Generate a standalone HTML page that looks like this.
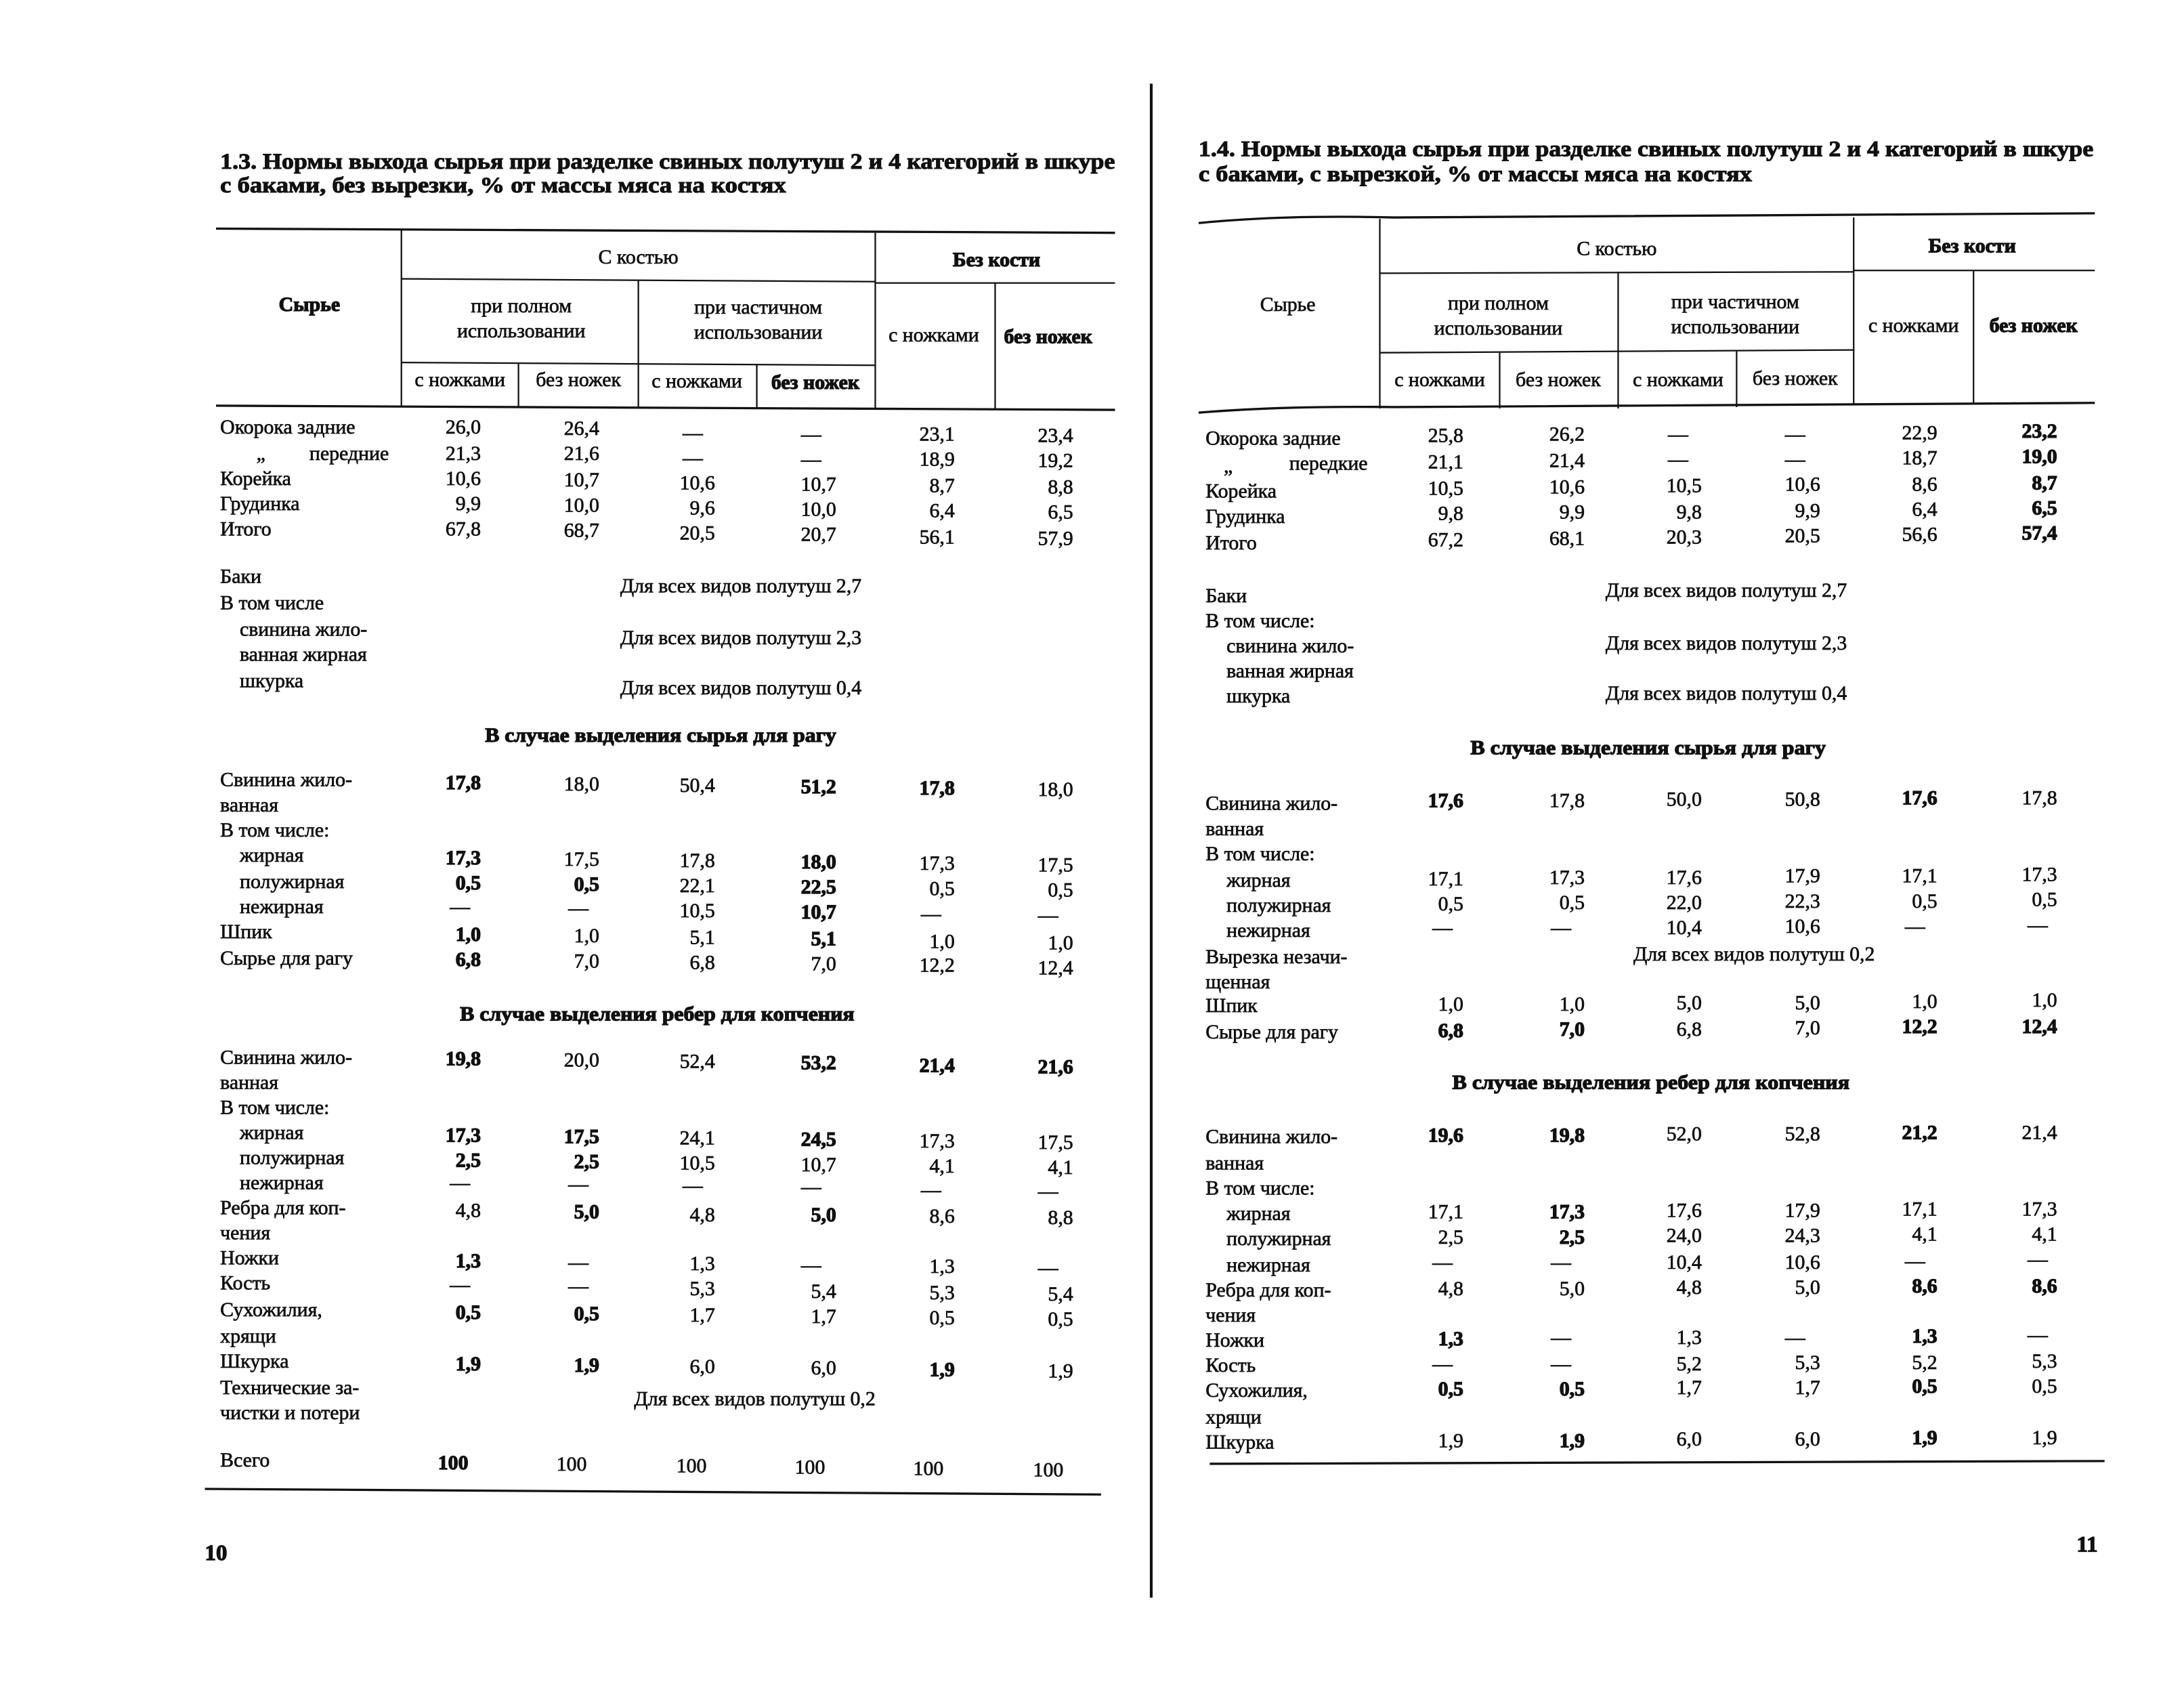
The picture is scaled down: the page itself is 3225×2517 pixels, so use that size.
<!DOCTYPE html>
<html><head><meta charset="utf-8"><style>
html,body{margin:0;padding:0;background:#fff}
svg{display:block}
text{font-family:"Liberation Serif","DejaVu Serif",serif;font-size:14.5px;fill:#111;stroke:#111;stroke-width:0.35}
.b{font-weight:bold;stroke-width:0.6}
.t{font-family:"Liberation Serif",serif;font-weight:bold;font-size:16px;stroke-width:0.5}
.n{text-anchor:end}
.m{text-anchor:middle}
line,path{stroke:#111;fill:none}
.r{stroke-width:1.6}
.g{stroke-width:1.1}
</style></head><body>
<svg width="3225" height="2517" viewBox="0 0 1567 1223" preserveAspectRatio="none" xmlns="http://www.w3.org/2000/svg">
<rect width="1567" height="1223" fill="#fff"/>
<line x1="826" y1="60" x2="826" y2="1146" class="r" style="stroke-width:2"/>

<!-- LEFT PAGE -->
<text class="t" x="158" y="121" textLength="642" lengthAdjust="spacingAndGlyphs">1.3. Нормы выхода сырья при разделке свиных полутуш 2 и 4 категорий в шкуре</text>
<text class="t" x="158" y="138" textLength="406" lengthAdjust="spacingAndGlyphs">с баками, без вырезки, % от массы мяса на костях</text>
<line x1="155" y1="164" x2="800" y2="167" class="r"/>
<line x1="288" y1="165" x2="288" y2="292" class="g"/>
<line x1="628" y1="167" x2="628" y2="293" class="g"/>
<line x1="288" y1="200" x2="628" y2="202" class="g"/>
<line x1="628" y1="203" x2="800" y2="203" class="g"/>
<line x1="458" y1="201" x2="458" y2="292" class="g"/>
<line x1="288" y1="260" x2="628" y2="262" class="g"/>
<line x1="372" y1="260" x2="372" y2="292" class="g"/>
<line x1="543" y1="261" x2="543" y2="293" class="g"/>
<line x1="714" y1="203" x2="714" y2="293" class="g"/>
<line x1="155" y1="291" x2="800" y2="294" class="r"/>
<text class="m" x="458" y="189">С костью</text>
<text class="m b" x="715" y="191">Без кости</text>
<text class="m b" x="222" y="223">Сырье</text>
<text class="m" x="374" y="224">при полном</text>
<text class="m" x="374" y="242">использовании</text>
<text class="m" x="544" y="225">при частичном</text>
<text class="m" x="544" y="243">использовании</text>
<text class="m" x="330" y="277">с ножками</text>
<text class="m" x="415" y="277">без ножек</text>
<text class="m" x="500" y="278">с ножками</text>
<text class="m b" x="585" y="279">без ножек</text>
<text class="m" x="670" y="245">с ножками</text>
<text class="m b" x="752" y="246">без ножек</text>

<text x="158" y="311">Окорока задние</text>
<text x="184" y="330">„</text><text x="222" y="330">передние</text>
<text x="158" y="348">Корейка</text>
<text x="158" y="366">Грудинка</text>
<text x="158" y="384">Итого</text>
<g class="n">
<text x="345" y="311">26,0</text><text x="430" y="312">26,4</text><text x="685" y="316">23,1</text><text x="770" y="317">23,4</text>
<text x="345" y="330">21,3</text><text x="430" y="330">21,6</text><text x="685" y="334">18,9</text><text x="770" y="335">19,2</text>
<text x="345" y="348">10,6</text><text x="430" y="349">10,7</text><text x="513" y="351">10,6</text><text x="600" y="352">10,7</text><text x="685" y="353">8,7</text><text x="770" y="354">8,8</text>
<text x="345" y="366">9,9</text><text x="430" y="367">10,0</text><text x="513" y="369">9,6</text><text x="600" y="370">10,0</text><text x="685" y="371">6,4</text><text x="770" y="372">6,5</text>
<text x="345" y="384">67,8</text><text x="430" y="385">68,7</text><text x="513" y="387">20,5</text><text x="600" y="388">20,7</text><text x="685" y="390">56,1</text><text x="770" y="391">57,9</text>
</g>
<g class="m"><text x="497" y="315">—</text><text x="582" y="316">—</text><text x="497" y="333">—</text><text x="582" y="334">—</text></g>

<text x="158" y="418">Баки</text>
<text x="158" y="437">В том числе</text>
<text x="172" y="456">свинина жило-</text>
<text x="172" y="474">ванная жирная</text>
<text x="172" y="493">шкурка</text>
<text x="445" y="425">Для всех видов полутуш 2,7</text>
<text x="445" y="462">Для всех видов полутуш 2,3</text>
<text x="445" y="498">Для всех видов полутуш 0,4</text>
<text class="b" x="348" y="532" textLength="252" lengthAdjust="spacingAndGlyphs">В случае выделения сырья для рагу</text>

<text x="158" y="564">Свинина жило-</text>
<text x="158" y="582">ванная</text>
<text x="158" y="600">В том числе:</text>
<text x="172" y="618">жирная</text>
<text x="172" y="637">полужирная</text>
<text x="172" y="655">нежирная</text>
<text x="158" y="673">Шпик</text>
<text x="158" y="692">Сырье для рагу</text>
<g class="n">
<text class="b" x="345" y="566">17,8</text><text x="430" y="567">18,0</text><text x="513" y="568">50,4</text><text class="b" x="600" y="569">51,2</text><text class="b" x="685" y="570">17,8</text><text x="770" y="571">18,0</text>
<text class="b" x="345" y="620">17,3</text><text x="430" y="621">17,5</text><text x="513" y="622">17,8</text><text class="b" x="600" y="623">18,0</text><text x="685" y="624">17,3</text><text x="770" y="625">17,5</text>
<text class="b" x="345" y="638">0,5</text><text class="b" x="430" y="639">0,5</text><text x="513" y="640">22,1</text><text class="b" x="600" y="641">22,5</text><text x="685" y="642">0,5</text><text x="770" y="643">0,5</text>
<text x="513" y="658">10,5</text><text class="b" x="600" y="659">10,7</text>
<text class="b" x="345" y="675">1,0</text><text x="430" y="676">1,0</text><text x="513" y="677">5,1</text><text class="b" x="600" y="678">5,1</text><text x="685" y="680">1,0</text><text x="770" y="681">1,0</text>
<text class="b" x="345" y="693">6,8</text><text x="430" y="694">7,0</text><text x="513" y="695">6,8</text><text x="600" y="696">7,0</text><text x="685" y="697">12,2</text><text x="770" y="699">12,4</text>
</g>
<g class="m"><text x="330" y="655">—</text><text x="415" y="656">—</text><text x="668" y="660">—</text><text x="752" y="661">—</text></g>

<text class="b" x="330" y="732" textLength="283" lengthAdjust="spacingAndGlyphs">В случае выделения ребер для копчения</text>
<text x="158" y="763">Свинина жило-</text>
<text x="158" y="781">ванная</text>
<text x="158" y="799">В том числе:</text>
<text x="172" y="817">жирная</text>
<text x="172" y="835">полужирная</text>
<text x="172" y="853">нежирная</text>
<text x="158" y="871">Ребра для коп-</text>
<text x="158" y="889">чения</text>
<text x="158" y="907">Ножки</text>
<text x="158" y="925">Кость</text>
<text x="158" y="944">Сухожилия,</text>
<text x="158" y="963">хрящи</text>
<text x="158" y="981">Шкурка</text>
<text x="158" y="1000">Технические за-</text>
<text x="158" y="1018">чистки и потери</text>
<text x="455" y="1008">Для всех видов полутуш 0,2</text>
<text x="158" y="1052">Всего</text>
<g class="n">
<text class="b" x="345" y="764">19,8</text><text x="430" y="765">20,0</text><text x="513" y="766">52,4</text><text class="b" x="600" y="767">53,2</text><text class="b" x="685" y="769">21,4</text><text class="b" x="770" y="770">21,6</text>
<text class="b" x="345" y="819">17,3</text><text class="b" x="430" y="820">17,5</text><text x="513" y="821">24,1</text><text class="b" x="600" y="822">24,5</text><text x="685" y="823">17,3</text><text x="770" y="824">17,5</text>
<text class="b" x="345" y="837">2,5</text><text class="b" x="430" y="838">2,5</text><text x="513" y="839">10,5</text><text x="600" y="840">10,7</text><text x="685" y="841">4,1</text><text x="770" y="842">4,1</text>
<text x="345" y="873">4,8</text><text class="b" x="430" y="874">5,0</text><text x="513" y="876">4,8</text><text class="b" x="600" y="876">5,0</text><text x="685" y="877">8,6</text><text x="770" y="878">8,8</text>
<text class="b" x="345" y="909">1,3</text><text x="513" y="911">1,3</text><text x="685" y="913">1,3</text>
<text x="513" y="929">5,3</text><text x="600" y="931">5,4</text><text x="685" y="932">5,3</text><text x="770" y="933">5,4</text>
<text class="b" x="345" y="946">0,5</text><text class="b" x="430" y="947">0,5</text><text x="513" y="948">1,7</text><text x="600" y="949">1,7</text><text x="685" y="950">0,5</text><text x="770" y="951">0,5</text>
<text class="b" x="345" y="983">1,9</text><text class="b" x="430" y="984">1,9</text><text x="513" y="985">6,0</text><text x="600" y="986">6,0</text><text class="b" x="685" y="987">1,9</text><text x="770" y="988">1,9</text>
<text class="b" x="336" y="1054">100</text><text x="421" y="1055">100</text><text x="507" y="1056">100</text><text x="592" y="1057">100</text><text x="677" y="1058">100</text><text x="763" y="1059">100</text>
</g>
<g class="m">
<text x="330" y="853">—</text><text x="415" y="854">—</text><text x="497" y="855">—</text><text x="582" y="856">—</text><text x="668" y="858">—</text><text x="752" y="859">—</text>
<text x="415" y="910">—</text><text x="582" y="912">—</text><text x="752" y="914">—</text>
<text x="330" y="926">—</text><text x="415" y="927">—</text>
</g>
<line x1="147" y1="1068" x2="790" y2="1072" class="r"/>
<text class="b" x="147" y="1119" style="font-size:16px">10</text>

<!-- RIGHT PAGE -->
<text class="t" x="860" y="112" textLength="642" lengthAdjust="spacingAndGlyphs">1.4. Нормы выхода сырья при разделке свиных полутуш 2 и 4 категорий в шкуре</text>
<text class="t" x="860" y="130" textLength="397" lengthAdjust="spacingAndGlyphs">с баками, с вырезкой, % от массы мяса на костях</text>
<path d="M860 160 Q920 154 1000 156 L1503 153" class="r"/>
<line x1="990" y1="157" x2="990" y2="293" class="g"/>
<line x1="1330" y1="156" x2="1330" y2="290" class="g"/>
<line x1="990" y1="196" x2="1330" y2="195" class="g"/>
<line x1="1330" y1="194" x2="1503" y2="194" class="g"/>
<line x1="1161" y1="196" x2="1161" y2="293" class="g"/>
<line x1="990" y1="253" x2="1330" y2="251" class="g"/>
<line x1="1076" y1="253" x2="1076" y2="293" class="g"/>
<line x1="1246" y1="252" x2="1246" y2="292" class="g"/>
<line x1="1416" y1="194" x2="1416" y2="289" class="g"/>
<path d="M860 296 Q920 291 1000 292 L1503 289" class="r"/>
<text class="m" x="1160" y="183">С костью</text>
<text class="m b" x="1415" y="181">Без кости</text>
<text class="m" x="924" y="223">Сырье</text>
<text class="m" x="1075" y="222">при полном</text>
<text class="m" x="1075" y="240">использовании</text>
<text class="m" x="1245" y="221">при частичном</text>
<text class="m" x="1245" y="239">использовании</text>
<text class="m" x="1033" y="277">с ножками</text>
<text class="m" x="1118" y="277">без ножек</text>
<text class="m" x="1204" y="277">с ножками</text>
<text class="m" x="1288" y="276">без ножек</text>
<text class="m" x="1373" y="238">с ножками</text>
<text class="m b" x="1459" y="238">без ножек</text>

<text x="865" y="319">Окорока задние</text>
<text x="878" y="339">„</text><text x="925" y="337">передкие</text>
<text x="865" y="357">Корейка</text>
<text x="865" y="375">Грудинка</text>
<text x="865" y="394">Итого</text>
<g class="n">
<text x="1050" y="317">25,8</text><text x="1137" y="316">26,2</text><text x="1390" y="315">22,9</text><text class="b" x="1476" y="314">23,2</text>
<text x="1050" y="336">21,1</text><text x="1137" y="335">21,4</text><text x="1390" y="333">18,7</text><text class="b" x="1476" y="332">19,0</text>
<text x="1050" y="355">10,5</text><text x="1137" y="354">10,6</text><text x="1221" y="353">10,5</text><text x="1306" y="352">10,6</text><text x="1390" y="352">8,6</text><text class="b" x="1476" y="351">8,7</text>
<text x="1050" y="373">9,8</text><text x="1137" y="372">9,9</text><text x="1221" y="372">9,8</text><text x="1306" y="371">9,9</text><text x="1390" y="370">6,4</text><text class="b" x="1476" y="369">6,5</text>
<text x="1050" y="392">67,2</text><text x="1137" y="391">68,1</text><text x="1221" y="390">20,3</text><text x="1306" y="389">20,5</text><text x="1390" y="388">56,6</text><text class="b" x="1476" y="387">57,4</text>
</g>
<g class="m"><text x="1204" y="316">—</text><text x="1288" y="316">—</text><text x="1204" y="334">—</text><text x="1288" y="334">—</text></g>

<text x="865" y="432">Баки</text>
<text x="865" y="450">В том числе:</text>
<text x="880" y="468">свинина жило-</text>
<text x="880" y="486">ванная жирная</text>
<text x="880" y="504">шкурка</text>
<text x="1152" y="428">Для всех видов полутуш 2,7</text>
<text x="1152" y="466">Для всех видов полутуш 2,3</text>
<text x="1152" y="502">Для всех видов полутуш 0,4</text>
<text class="b" x="1055" y="541" textLength="255" lengthAdjust="spacingAndGlyphs">В случае выделения сырья для рагу</text>

<text x="865" y="581">Свинина жило-</text>
<text x="865" y="599">ванная</text>
<text x="865" y="617">В том числе:</text>
<text x="880" y="636">жирная</text>
<text x="880" y="654">полужирная</text>
<text x="880" y="672">нежирная</text>
<text x="865" y="691">Вырезка незачи-</text>
<text x="865" y="709">щенная</text>
<text x="865" y="726">Шпик</text>
<text x="865" y="745">Сырье для рагу</text>
<text x="1172" y="689">Для всех видов полутуш 0,2</text>
<g class="n">
<text class="b" x="1050" y="579">17,6</text><text x="1137" y="579">17,8</text><text x="1221" y="578">50,0</text><text x="1306" y="578">50,8</text><text class="b" x="1390" y="577">17,6</text><text x="1476" y="577">17,8</text>
<text x="1050" y="635">17,1</text><text x="1137" y="634">17,3</text><text x="1221" y="634">17,6</text><text x="1306" y="633">17,9</text><text x="1390" y="633">17,1</text><text x="1476" y="632">17,3</text>
<text x="1050" y="653">0,5</text><text x="1137" y="652">0,5</text><text x="1221" y="652">22,0</text><text x="1306" y="651">22,3</text><text x="1390" y="651">0,5</text><text x="1476" y="650">0,5</text>
<text x="1221" y="670">10,4</text><text x="1306" y="669">10,6</text>
<text x="1050" y="725">1,0</text><text x="1137" y="725">1,0</text><text x="1221" y="724">5,0</text><text x="1306" y="724">5,0</text><text x="1390" y="723">1,0</text><text x="1476" y="722">1,0</text>
<text class="b" x="1050" y="744">6,8</text><text class="b" x="1137" y="743">7,0</text><text x="1221" y="743">6,8</text><text x="1306" y="742">7,0</text><text class="b" x="1390" y="741">12,2</text><text class="b" x="1476" y="741">12,4</text>
</g>
<g class="m"><text x="1035" y="670">—</text><text x="1120" y="670">—</text><text x="1374" y="669">—</text><text x="1462" y="668">—</text></g>

<text class="b" x="1042" y="781" textLength="285" lengthAdjust="spacingAndGlyphs">В случае выделения ребер для копчения</text>
<text x="865" y="820">Свинина жило-</text>
<text x="865" y="839">ванная</text>
<text x="865" y="857">В том числе:</text>
<text x="880" y="875">жирная</text>
<text x="880" y="893">полужирная</text>
<text x="880" y="912">нежирная</text>
<text x="865" y="930">Ребра для коп-</text>
<text x="865" y="948">чения</text>
<text x="865" y="966">Ножки</text>
<text x="865" y="984">Кость</text>
<text x="865" y="1002">Сухожилия,</text>
<text x="865" y="1021">хрящи</text>
<text x="865" y="1039">Шкурка</text>
<g class="n">
<text class="b" x="1050" y="819">19,6</text><text class="b" x="1137" y="819">19,8</text><text x="1221" y="818">52,0</text><text x="1306" y="818">52,8</text><text class="b" x="1390" y="817">21,2</text><text x="1476" y="817">21,4</text>
<text x="1050" y="874">17,1</text><text class="b" x="1137" y="874">17,3</text><text x="1221" y="873">17,6</text><text x="1306" y="873">17,9</text><text x="1390" y="872">17,1</text><text x="1476" y="872">17,3</text>
<text x="1050" y="892">2,5</text><text class="b" x="1137" y="892">2,5</text><text x="1221" y="891">24,0</text><text x="1306" y="891">24,3</text><text x="1390" y="890">4,1</text><text x="1476" y="890">4,1</text>
<text x="1221" y="910">10,4</text><text x="1306" y="910">10,6</text>
<text x="1050" y="929">4,8</text><text x="1137" y="929">5,0</text><text x="1221" y="928">4,8</text><text x="1306" y="928">5,0</text><text class="b" x="1390" y="927">8,6</text><text class="b" x="1476" y="927">8,6</text>
<text class="b" x="1050" y="965">1,3</text><text x="1221" y="964">1,3</text><text class="b" x="1390" y="963">1,3</text>
<text x="1221" y="983">5,2</text><text x="1306" y="982">5,3</text><text x="1390" y="982">5,2</text><text x="1476" y="981">5,3</text>
<text class="b" x="1050" y="1001">0,5</text><text class="b" x="1137" y="1001">0,5</text><text x="1221" y="1000">1,7</text><text x="1306" y="1000">1,7</text><text class="b" x="1390" y="999">0,5</text><text x="1476" y="999">0,5</text>
<text x="1050" y="1038">1,9</text><text class="b" x="1137" y="1038">1,9</text><text x="1221" y="1037">6,0</text><text x="1306" y="1037">6,0</text><text class="b" x="1390" y="1036">1,9</text><text x="1476" y="1036">1,9</text>
</g>
<g class="m">
<text x="1035" y="910">—</text><text x="1120" y="910">—</text><text x="1374" y="909">—</text><text x="1462" y="908">—</text>
<text x="1120" y="964">—</text><text x="1288" y="964">—</text><text x="1462" y="962">—</text>
<text x="1035" y="983">—</text><text x="1120" y="983">—</text>
</g>
<path d="M868 1050 L1510 1048" class="r"/>
<text class="b" x="1490" y="1113" style="font-size:16px">11</text>
</svg>
</body></html>
